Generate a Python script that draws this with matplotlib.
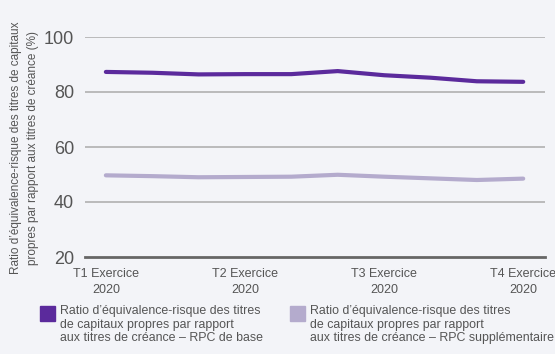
import matplotlib.pyplot as plt
from matplotlib.patches import Rectangle

plt.rcParams["font.family"] = ["Liberation Sans", "DejaVu Sans"]

# monthly readings, quarter labels every third point
periods = ["T1 Exercice\n2020", "T2 Exercice\n2020", "T3 Exercice\n2020", "T4 Exercice\n2020"]
rpc_base = [87.3, 87.0, 86.4, 86.5, 86.5, 87.6, 86.1, 85.2, 83.9, 83.7]
rpc_supp = [49.7, 49.4, 49.0, 49.1, 49.2, 49.9, 49.2, 48.6, 48.0, 48.5]
yticks = [20, 40, 60, 80, 100]

bg = "#f3f4f8"
dark = "#5b2a9c"
light = "#b4abcd"
grey = "#555555"

fig = plt.figure(figsize=(5.55, 3.54), dpi=100, facecolor=bg)
ax = fig.add_axes([85 / 555, 1 - 257 / 354, 460 / 555, (257 - 37) / 354], facecolor=bg)

x = list(range(len(rpc_base)))
ax.plot(x, rpc_base, color=dark, lw=3.0, solid_capstyle="round", zorder=3)
ax.plot(x, rpc_supp, color=light, lw=3.0, solid_capstyle="round", zorder=3)

ax.set_ylim(20, 100)
ax.set_xlim(-0.45, 9.47)
ax.set_yticks(yticks)
ax.set_yticklabels([str(v) for v in yticks], fontsize=13, color=grey)
ax.set_xticks([0, 3, 6, 9])
ax.set_xticklabels(periods, fontsize=9, color=grey, linespacing=1.45)
ax.tick_params(axis="both", length=0)
ax.tick_params(axis="y", pad=8)
ax.tick_params(axis="x", pad=8)

for v in yticks[1:]:
    ax.axhline(v, color="#b0b0b0", lw=1.2, zorder=1)
ax.axhline(20, color="#666666", lw=2, zorder=2, clip_on=False)
for s in ax.spines.values():
    s.set_visible(False)

fig.text(24.5 / 555, 1 - 148 / 354,
         "Ratio d\u2019\u00e9quivalence-risque des titres de capitaux\n"
         "propres par rapport aux titres de cr\u00e9ance (%)",
         rotation=90, ha="center", va="center", fontsize=8.5, color=grey,
         linespacing=1.45)

# legend drawn by hand: square swatch plus three-line caption
legend = [
    (40, dark, "Ratio d\u2019\u00e9quivalence-risque des titres\n"
               "de capitaux propres par rapport\n"
               "aux titres de cr\u00e9ance \u2013 RPC de base"),
    (290, light, "Ratio d\u2019\u00e9quivalence-risque des titres\n"
                 "de capitaux propres par rapport\n"
                 "aux titres de cr\u00e9ance \u2013 RPC suppl\u00e9mentaire"),
]
for x0, col, label in legend:
    fig.patches.append(Rectangle((x0 / 555, 1 - 321 / 354), 15 / 555, 15 / 354,
                                 transform=fig.transFigure, color=col))
    fig.text((x0 + 20) / 555, 1 - 305 / 354, label, ha="left", va="top",
             fontsize=8.9, color=grey, linespacing=1.17)

fig.savefig("out.png", dpi=100, facecolor=bg)
